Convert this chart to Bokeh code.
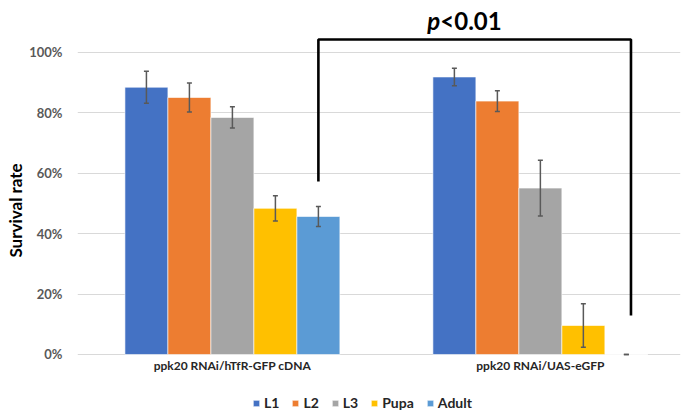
from bokeh.plotting import figure
from bokeh.models import (ColumnDataSource, FixedTicker, Legend, LegendItem, Whisker,
                          NumeralTickFormatter, Range1d)
from bokeh.core.properties import value
from bokeh.embed import file_html
from bokeh.resources import INLINE

groups = ["ppk20 RNAi/hTfR-GFP cDNA", "ppk20 RNAi/UAS-eGFP"]
stages = ["L1", "L2", "L3", "Pupa", "Adult"]
colors = ["#4472C4", "#ED7D31", "#A5A5A5", "#FFC000", "#5B9BD5"]
means = {
    "L1":    [0.885, 0.919],
    "L2":    [0.851, 0.839],
    "L3":    [0.785, 0.551],
    "Pupa":  [0.484, 0.096],
    "Adult": [0.457, 0.0],
}
errors = {
    "L1":    [0.053, 0.029],
    "L2":    [0.048, 0.034],
    "L3":    [0.035, 0.092],
    "Pupa":  [0.042, 0.072],
    "Adult": [0.033, 0.0],
}
y_ticks = [0, 0.2, 0.4, 0.6, 0.8, 1.0]
bracket_left_y = 0.573
bracket_right_y = 0.129
bracket_top_y = 1.043
p_label_y = 1.105
group_label_y = -0.036

FONT = "Lato"
bar_w = 0.1396

p = figure(frame_width=603, frame_height=410, min_border_left=77, min_border_right=7,
           min_border_top=5, min_border_bottom=0, output_backend="svg",
           toolbar_location=None, x_range=Range1d(-0.503, 1.455),
           y_range=Range1d(-0.202, 1.1556))
p.outline_line_color = None
p.background_fill_color = "white"

items = []
for i, s in enumerate(stages):
    off = (i - 2) * bar_w
    xs = [g + off for g in range(len(groups))]
    src = ColumnDataSource(dict(x=xs, top=means[s],
                                lo=[m - e for m, e in zip(means[s], errors[s])],
                                hi=[m + e for m, e in zip(means[s], errors[s])]))
    r = p.vbar(x="x", top="top", width=bar_w, source=src, fill_color=colors[i],
               line_color="white", line_width=0.6)
    items.append(LegendItem(label=s, renderers=[r]))
    w = Whisker(source=src, base="x", lower="lo", upper="hi", line_color="#595959",
                line_width=1.5, level="overlay")
    w.upper_head.size = 5
    w.lower_head.size = 5
    w.upper_head.line_color = "#595959"
    w.lower_head.line_color = "#595959"
    w.upper_head.line_width = 1.5
    w.lower_head.line_width = 1.5
    p.add_layout(w)

# category labels under the baseline
p.text(x=list(range(len(groups))), y=[group_label_y] * len(groups), text=groups,
       text_font=value(FONT), text_font_style="bold", text_font_size="12px",
       text_align="center", text_baseline="middle", text_color="#262626")

# significance bracket
xl = 0 + 2 * bar_w
xr = 1 + 2 * bar_w + 0.015
p.line(x=[xl, xl, xr, xr], y=[bracket_left_y, bracket_top_y, bracket_top_y, bracket_right_y],
       line_color="black", line_width=2.6)
xsplit = 0.675
p.text(x=[xsplit], y=[p_label_y], text=["p"], text_font=value(FONT), text_font_style="bold italic",
       text_font_size="24px", text_align="right", text_baseline="alphabetic", text_color="black")
p.text(x=[xsplit], y=[p_label_y], text=["<0.01"], text_font=value(FONT), text_font_style="bold",
       text_font_size="24px", text_align="left", text_baseline="alphabetic", text_color="black")

# axes
p.xaxis.visible = False
p.yaxis.ticker = FixedTicker(ticks=y_ticks)
p.yaxis.formatter = NumeralTickFormatter(format="0%")
p.yaxis.axis_line_color = None
p.yaxis.major_tick_line_color = None
p.yaxis.minor_tick_line_color = None
p.yaxis.major_tick_out = 0
p.yaxis.major_tick_in = 0
p.yaxis.minor_tick_out = 0
p.yaxis.major_label_text_font = FONT
p.yaxis.major_label_text_font_style = "bold"
p.yaxis.major_label_text_font_size = "13px"
p.yaxis.major_label_text_color = "#595959"
p.yaxis.major_label_standoff = 15
p.yaxis.axis_label = "Survival rate"
p.yaxis.axis_label_text_font = FONT
p.yaxis.axis_label_text_font_style = "bold"
p.yaxis.axis_label_text_font_size = "17px"
p.yaxis.axis_label_text_color = "black"
p.yaxis.axis_label_standoff = 0

p.xgrid.grid_line_color = None
p.ygrid.grid_line_color = "#D9D9D9"
p.ygrid.grid_line_width = 1

legend = Legend(items=items, orientation="horizontal", location=(175, 4),
                glyph_width=8, glyph_height=8, label_standoff=4, spacing=12,
                label_width=5, label_height=14,
                label_text_font=FONT, label_text_font_style="bold",
                label_text_font_size="14px", label_text_color="#262626",
                border_line_color=None, background_fill_alpha=0, padding=0, margin=0)
p.add_layout(legend, "center")

open("out.html", "w").write(file_html(p, INLINE))
